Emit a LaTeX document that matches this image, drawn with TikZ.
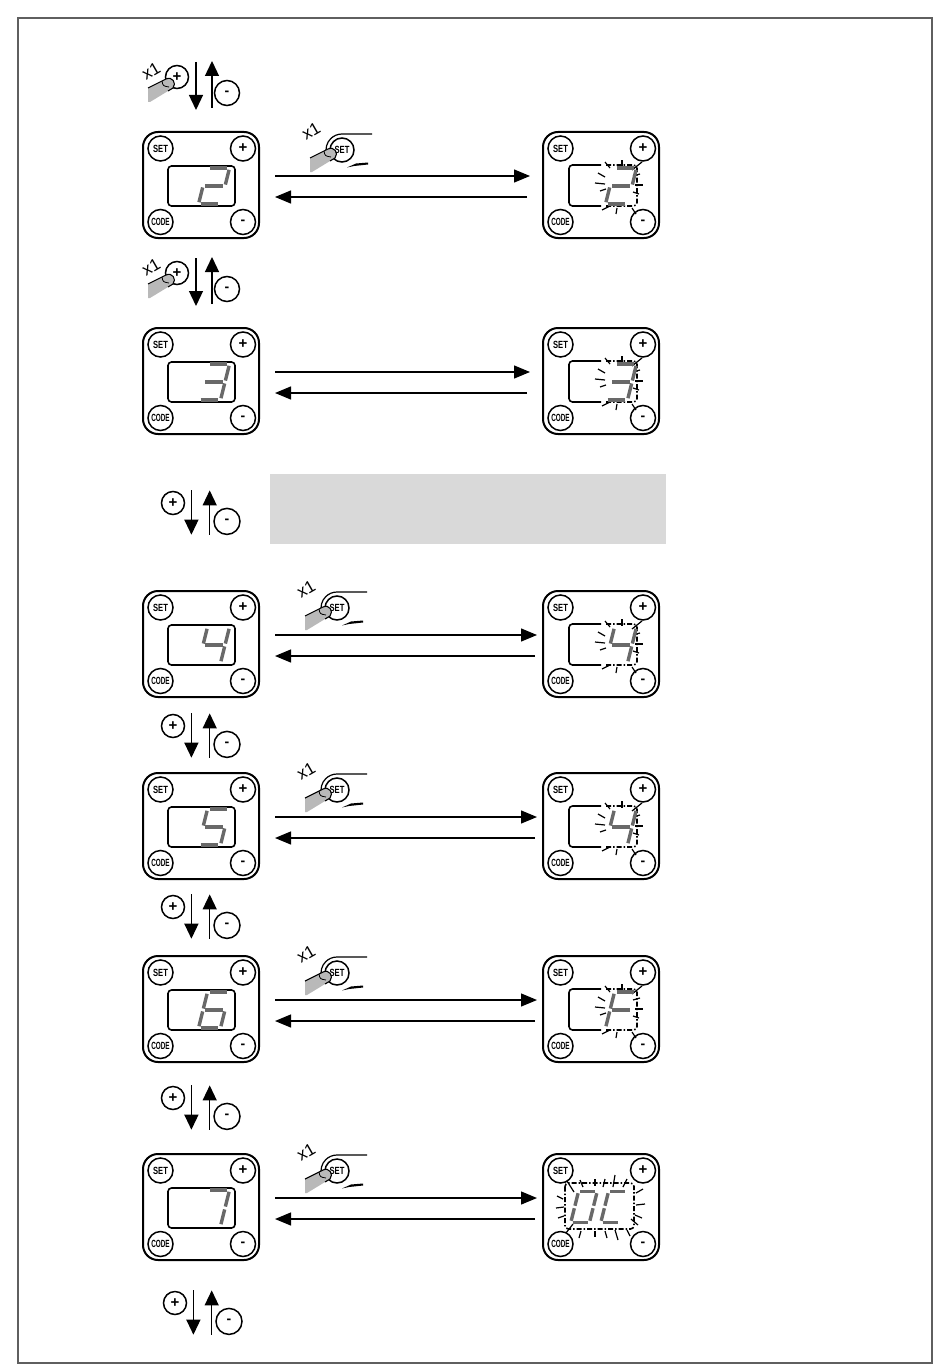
\documentclass[tikz,border=0pt]{standalone}
\usepackage{fontspec}
\setmainfont{Liberation Sans}
\usepackage{graphicx}
\usetikzlibrary{arrows.meta}
\definecolor{seggray}{RGB}{105,105,105}
\definecolor{boxgray}{RGB}{217,217,217}
\definecolor{fingergray}{RGB}{185,185,185}
\definecolor{framegray}{RGB}{95,95,95}
\tikzset{
 panelbox/.style={draw, line width=2pt, rounded corners=15pt, minimum width=116pt, minimum height=106pt, inner sep=0pt},
 btn/.style={draw, circle, line width=1.5pt, minimum size=25pt, inner sep=0pt, fill=white},
 sbtn/.style={draw, circle, line width=1.5pt, minimum size=24pt, inner sep=0pt, fill=white},
 dispbox/.style={draw, line width=1.6pt, rounded corners=3.5pt},
 segline/.style={line width=3.4pt, draw=seggray},
 ray/.style={line width=1.2pt},
 fwd/.style={line width=1.3pt, -{Triangle[length=16pt,width=13pt]}},
 updn/.style={line width=1.3pt, -{Triangle[length=15pt,width=14pt]}},
 xone/.style={rotate=30, inner sep=0pt, font=\fontsize{17}{17}\selectfont},
}
\newcommand{\lbl}[2][0.95]{\scalebox{#1}[1.3]{\fontsize{8}{8}\selectfont\bfseries #2}}
\newcommand{\plbl}{{\fontsize{15}{15}\selectfont\bfseries +}}
\newcommand{\mlbl}{{\fontsize{14}{14}\selectfont\bfseries\raisebox{0pt}[4.6pt][-3.1pt]{-}}}
\pgfkeys{/seg/.cd,
 a/.code={\draw[segline] (-4.3,-18) -- (13.3,-18);},
 b/.code={\draw[segline] (15.05,-16.2) -- (11.36,-1.44);},
 c/.code={\draw[segline] (10.64,1.44) -- (6.95,16.2);},
 d/.code={\draw[segline] (-13.3,18) -- (4.3,18);},
 e/.code={\draw[segline] (-11.36,1.44) -- (-15.05,16.2);},
 f/.code={\draw[segline] (-6.95,-16.2) -- (-10.64,-1.44);},
 g/.code={\draw[segline] (-8.8,0) -- (8.8,0);}}
\newcommand{\sevseg}[4][1]{\begin{scope}[shift={({#2},{#3})},scale=#1]\foreach \s in {#4}{\pgfkeys{/seg/\s}}\end{scope}}
\newcommand{\buttons}[3]{%
 \node[btn] (#1s) at ({#2+17.5},{#3+16.5}) {\lbl{SET}};
 \node[btn] (#1p) at ({#2+100},{#3+16.5}) {\plbl};
 \node[btn] (#1c) at ({#2+17.5},{#3+90}) {\lbl[0.8]{CODE}};
 \node[btn] (#1m) at ({#2+100},{#3+90}) {\mlbl};}
\newcommand{\leftunit}[4]{%
 \node[panelbox] (#1) at ({#2+58},{#3+53}) {};
 \buttons{#1}{#2}{#3}
 \draw[dispbox] ({#2+25},{#3+34}) rectangle ({#2+92},{#3+74});
 \sevseg{#2+71}{#3+54}{#4}}
\newcommand{\rightunit}[4]{%
 \node[panelbox] (#1) at ({#2+58},{#3+53}) {};
 \buttons{#1}{#2}{#3}
 \begin{scope}[shift={({#2+78},{#3+54})}]
  \draw[dispbox] (-20,-21) -- (-52,-21) -- (-52,20) -- (-20,20);
  \draw[dispbox, dash pattern=on 5pt off 2pt on 1.5pt off 2pt] (-15,-21) -- (16,-21) -- (16,20) -- (-15,20);
  \foreach \a/\b/\c/\d in {-16/-24/-11/-18, 1/-26/1/-19, -23/-13/-16/-9, -26/-3/-16/-2, -21/5/-15/3, -19/24/-11/20, -4/22/-5/28, 11/-16/21/-24, 12/-10/19/-12, 14/-1/22/-1, 12/6/18/8, 11/22/15/28}
   {\draw[ray] (\a,\b) -- (\c,\d);}
 \end{scope}
 \sevseg{#2+78}{#3+54}{#4}}
\newcommand{\fingerat}[2]{%
 \begin{scope}[shift={({#1},{#2})}]
 \fill[fingergray] (-32,8) -- (-14,-1) .. controls (-8,-4) and (-3,3) .. (-7,8) -- (-30,22) -- (-32,22) -- cycle;
 \draw[line width=1.1pt, line join=round] (-32,8) -- (-14,-1) .. controls (-8,-4) and (-3,3) .. (-7,8) -- (-12,11);
 \draw[line width=0.8pt] (-18,1) .. controls (-17,6) .. (-11,7);
 \end{scope}}
\newcommand{\setpress}[3]{%
 \draw[line width=1.2pt] ([shift={(165:16)}]#2,#3) arc[start angle=165,end angle=270,radius=16] -- ++(30,0);
 \fill ({#2+5},{#3+17.5}) -- ({#2+14},{#3+13.5}) -- ({#2+26},{#3+12.5}) -- ({#2+26},{#3+14.5}) -- ({#2+12},{#3+16}) -- cycle;
 \node[sbtn] (#1) at (#2,#3) {\lbl{SET}};
 \fingerat{#2}{#3}
 \node[xone] (#1x) at ({#2-31},{#3-19}) {x1};}
\newcommand{\updownA}[3]{%
 \node[sbtn, minimum size=23pt] (#1p) at (#2,#3) {\plbl};
 \node[sbtn, minimum size=25pt] (#1m) at ({#2+50},{#3+16}) {\mlbl};
 \coordinate (#1a) at ({#2+19},{#3-15}); \coordinate (#1b) at ({#2+19},{#3+33});
 \coordinate (#1c) at ({#2+35},{#3+31}); \coordinate (#1d) at ({#2+35},{#3-16});
 \draw[updn] (#1a) -- (#1b); \draw[updn] (#1c) -- (#1d);
 \fingerat{#2+3}{#3+3}
 \node[xone] (#1x) at ({#2-26},{#3-6}) {x1};}
\newcommand{\updownB}[3]{%
 \node[sbtn, minimum size=23pt] (#1p) at (#2,#3) {\plbl};
 \node[sbtn, minimum size=26pt] (#1m) at ({#2+54},{#3+18.4}) {\mlbl};
 \coordinate (#1a) at ({#2+18.4},{#3-12.6}); \coordinate (#1b) at ({#2+18.4},{#3+31.7});
 \coordinate (#1c) at ({#2+36.7},{#3+31.7}); \coordinate (#1d) at ({#2+36.7},{#3-12.6});
 \draw[updn] (#1a) -- (#1b); \draw[updn] (#1c) -- (#1d);}
\newcommand{\links}[4]{%
 \draw[fwd, shorten <=15pt, shorten >=#3] ([yshift=9pt]#1.east) -- ([yshift=9pt]#2.west);
 \draw[fwd, shorten <=#4, shorten >=15pt] ([yshift=-12pt]#2.west) -- ([yshift=-12pt]#1.east);}
\begin{document}
\begin{tikzpicture}[x=1pt,y=-1pt]
\useasboundingbox (0,0) rectangle (950,1370);
\draw[framegray, line width=1.3pt] (18,18) rectangle (932,1363);
\fill[boxgray] (270,474) rectangle (666,544);
% row 1
\updownA{ia}{177}{77}
\leftunit{La}{143}{132}{a,b,g,e,d}
\rightunit{Ra}{543}{132}{a,b,g,e,d}
\setpress{sa}{342}{150}
\links{La}{Ra}{12pt}{15pt}
% row 2
\updownA{ib}{177}{273}
\leftunit{Lb}{143}{328}{a,b,g,c,d}
\rightunit{Rb}{543}{328}{a,b,g,c,d}
\links{Lb}{Rb}{12pt}{15pt}
% row 3
\updownB{ic}{173}{503}
\leftunit{Lc}{143}{591}{f,g,b,c}
\rightunit{Rc}{543}{591}{f,g,b,c}
\setpress{sc}{337}{608}
\links{Lc}{Rc}{5pt}{7pt}
% row 4
\updownB{id}{173}{726}
\leftunit{Ld}{143}{773}{a,f,g,c,d}
\rightunit{Rd}{543}{773}{f,g,b,c}
\setpress{sd}{337}{790}
\links{Ld}{Rd}{5pt}{7pt}
% row 5
\updownB{ie}{173}{907}
\leftunit{Le}{143}{956}{a,f,g,e,d,c}
\rightunit{Re}{543}{956}{a,f,g,e}
\setpress{se}{337}{973}
\links{Le}{Re}{5pt}{7pt}
% row 6
\updownB{if}{173}{1098}
\leftunit{Lf}{143}{1154}{a,b,c}
\node[panelbox] (Rf) at (601,1207) {};
\buttons{Rf}{543}{1154}
\draw[dispbox, dash pattern=on 5pt off 2pt on 1.5pt off 2pt] (565,1183) rectangle (634,1229);
\foreach \a/\b/\c/\d in {567/1181/574/1192, 580/1180/583/1187, 595/1179/595/1186, 605/1179/603/1187, 615/1175/613/1187, 627/1179/623/1187, 636/1193/643/1189, 636/1205/645/1204, 635/1215/642/1218, 631/1219/638/1225, 556/1208/564/1207, 557/1196/563/1199, 558/1218/564/1216, 566/1233/573/1224, 581/1231/579/1238, 595/1231/595/1237, 605/1231/607/1238, 615/1230/618/1240, 627/1230/630/1236}
 {\draw[ray] (\a,\b) -- (\c,\d);}
\sevseg[0.85]{584}{1207}{a,b,c,d,e,f}
\sevseg[0.85]{614}{1207}{a,d,e,f}
\setpress{sf}{337}{1171}
\links{Lf}{Rf}{5pt}{7pt}
% bottom
\updownB{ig}{175}{1303}
\end{tikzpicture}
\end{document}
